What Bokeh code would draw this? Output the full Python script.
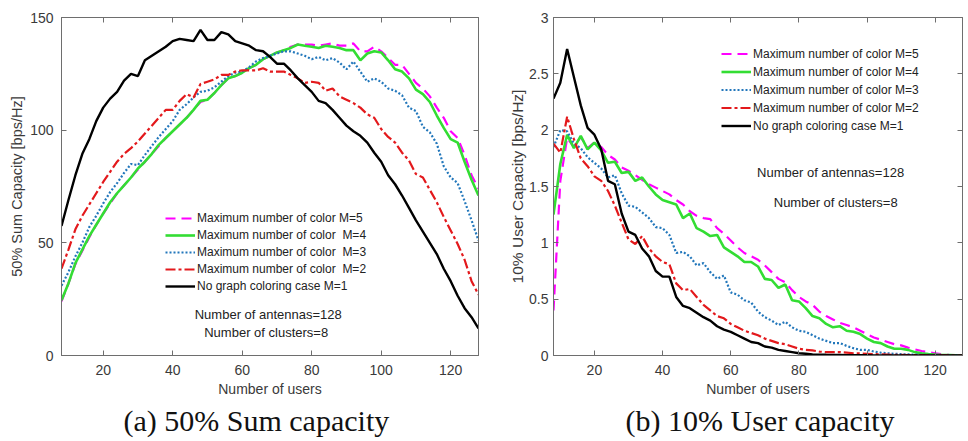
from bokeh.plotting import figure
from bokeh.layouts import row
from bokeh.models import (Range1d, LinearAxis, FixedTicker, Legend, LegendItem,
                          Label, Title, CustomJSTickFormatter)
from bokeh.embed import file_html
from bokeh.resources import INLINE

# ---------------- data ----------------
users = list(range(8, 129, 2))

# (a) 50% sum capacity [bps/Hz]
sum_m5 = [24, 32, 40.5, 46.5, 52.5, 58, 63, 67.5, 72, 75.5, 79, 82.5, 86, 89.5, 93, 96.5, 99.5, 102.5,
          105.5, 109, 112.5, 113.5, 116.5, 120, 123, 124, 125.5, 127.5, 129, 131.5, 133, 134.5, 135.5,
          137, 138, 138, 138, 137.5, 138, 138.5, 137.5, 137.5, 138.5, 135, 135, 137, 135, 132, 129,
          129, 125, 121, 118.5, 115, 110, 105.5, 99.5, 96.5, 89, 80, 74]
sum_m4 = [24.5, 32, 41, 47, 53, 58, 63, 68, 72, 75.5, 79, 83, 86, 89.5, 93.5, 96.5, 99.5, 102.5,
          105.5, 109, 113, 113.5, 116.5, 120, 123, 124, 125.5, 127.5, 129, 131.5, 133, 134.5, 135.5,
          136.5, 138, 137.5, 137, 136.5, 137.5, 137, 136.5, 135.5, 135.5, 131, 134, 135, 134.5, 131,
          127, 126, 123, 118, 116, 112.5, 106.5, 101, 96, 94.5, 86, 78, 71]
sum_m3 = [31, 37, 44, 50, 57, 62, 67.5, 72.5, 76.5, 81, 85, 84.5, 89, 93, 97, 100.5, 104, 109, 111.5,
          114.5, 117, 117.5, 119, 121.5, 124, 125.5, 126, 128, 130.5, 132, 133, 134, 135, 135, 134,
          133, 131.5, 132.5, 131, 132, 130, 127, 130.5, 126, 121.5, 123, 121.5, 118.5, 117.5, 115.5,
          110, 108.5, 101.5, 99, 94, 84, 79, 76.5, 68.5, 60, 51]
sum_m2 = [38.5, 47, 56, 62, 67, 72, 77, 81.5, 86, 89.5, 92, 95, 98.5, 102, 105.5, 109, 109, 113, 116,
          114.5, 120.5, 121.5, 122.5, 124.5, 124.5, 126, 126.5, 126.5, 126.5, 127.5, 126, 126, 126,
          124.5, 123, 121, 121.5, 121, 117.5, 118.5, 115, 113.5, 112, 110, 107, 105.5, 100.5, 97,
          94.5, 90, 86.5, 80.5, 79, 73.5, 68, 61.5, 55.5, 49.5, 42.5, 33, 27]
sum_m1 = [57.5, 69, 80, 89.5, 96, 104, 110, 114, 117, 122, 125, 124, 131, 133, 135, 137, 139.5, 140.5,
          140, 139.5, 144.5, 140, 140, 143.5, 142.5, 139.5, 138.5, 137.5, 135.5, 135, 132.5, 129.5,
          129.5, 126.5, 123, 120, 117, 113, 112, 109, 105.5, 102, 99.5, 97.5, 94.5, 90, 86, 80, 76,
          71, 65.5, 60, 55, 50, 45, 38.5, 33, 26.5, 21, 17, 12]

# (b) 10% user capacity [bps/Hz]
usr_m5 = [0.40, 1.55, 1.93, 1.85, 1.94, 1.84, 1.89, 1.85, 1.78, 1.74, 1.67, 1.64, 1.60, 1.56, 1.52,
          1.49, 1.46, 1.43, 1.38, 1.34, 1.28, 1.24, 1.22, 1.21, 1.13, 1.08, 1.02, 0.96, 0.91, 0.88,
          0.85, 0.80, 0.74, 0.68, 0.65, 0.58, 0.52, 0.48, 0.45, 0.39, 0.35, 0.32, 0.29, 0.27, 0.25,
          0.22, 0.19, 0.16, 0.14, 0.12, 0.10, 0.09, 0.07, 0.055, 0.04, 0.03, 0.02, 0.01, 0.005,
          0.002, 0.0]
usr_m4 = [1.25, 1.70, 1.96, 1.84, 1.95, 1.83, 1.89, 1.82, 1.71, 1.72, 1.62, 1.63, 1.55, 1.58, 1.50,
          1.43, 1.38, 1.36, 1.34, 1.22, 1.26, 1.13, 1.10, 1.06, 1.07, 0.96, 0.92, 0.88, 0.83, 0.83,
          0.79, 0.68, 0.67, 0.60, 0.63, 0.49, 0.48, 0.42, 0.35, 0.33, 0.28, 0.25, 0.26, 0.22, 0.21,
          0.19, 0.15, 0.12, 0.11, 0.08, 0.06, 0.06, 0.05, 0.03, 0.02, 0.012, 0.008, 0.005, 0.003,
          0.001, 0.0]
usr_m3 = [1.85, 2.00, 1.99, 1.88, 1.84, 1.76, 1.71, 1.66, 1.58, 1.60, 1.44, 1.33, 1.32, 1.27, 1.22,
          1.14, 1.13, 1.07, 0.91, 0.92, 0.88, 0.80, 0.82, 0.74, 0.68, 0.71, 0.56, 0.54, 0.49, 0.47,
          0.39, 0.34, 0.31, 0.27, 0.30, 0.25, 0.22, 0.21, 0.18, 0.15, 0.13, 0.11, 0.11, 0.085, 0.065,
          0.05, 0.05, 0.035, 0.025, 0.02, 0.015, 0.012, 0.01, 0.008, 0.006, 0.005, 0.004, 0.003,
          0.002, 0.001, 0.0]
usr_m2 = [1.88, 1.80, 2.12, 1.92, 1.75, 1.68, 1.59, 1.55, 1.46, 1.33, 1.18, 1.03, 0.99, 1.06, 0.95,
          0.88, 0.83, 0.81, 0.64, 0.58, 0.59, 0.52, 0.45, 0.40, 0.35, 0.33, 0.28, 0.25, 0.22, 0.20,
          0.18, 0.15, 0.13, 0.11, 0.10, 0.08, 0.06, 0.05, 0.045, 0.035, 0.03, 0.03, 0.03, 0.025,
          0.02, 0.018, 0.015, 0.012, 0.01, 0.008, 0.006, 0.005, 0.004, 0.003, 0.003, 0.002, 0.002,
          0.001, 0.001, 0.0, 0.0]
usr_m1 = [2.28, 2.42, 2.72, 2.47, 2.22, 2.02, 1.96, 1.83, 1.55, 1.52, 1.26, 1.10, 1.07, 0.95, 0.88,
          0.75, 0.70, 0.70, 0.52, 0.44, 0.42, 0.38, 0.34, 0.31, 0.26, 0.23, 0.21, 0.18, 0.15, 0.12,
          0.11, 0.08, 0.07, 0.05, 0.04, 0.03, 0.02, 0.015, 0.01, 0.008, 0.006, 0.005, 0.004, 0.003,
          0.003, 0.002, 0.002, 0.001, 0.001, 0.001, 0.0, 0.0, 0.0, 0.0, 0.0, 0.0, 0.0, 0.0, 0.0,
          0.0, 0.0]

x_ticks = [20, 40, 60, 80, 100, 120]
sum_ticks = [0, 50, 100, 150]
usr_ticks = [0, 0.5, 1, 1.5, 2, 2.5, 3]

labels_a = ["Maximum number of color M=5", "Maximum number of color  M=4",
            "Maximum number of color  M=3", "Maximum number of color  M=2",
            "No graph coloring case M=1"]
labels_b = ["Maximum number of color M=5", "Maximum number of color M=4",
            "Maximum number of color M=3", "Maximum number of color M=2",
            "No graph coloring case M=1"]

# ---------------- styles ----------------
FONT = "Liberation Sans"
TXT = "#3a3a3a"
AX = "#6e6e6e"
styles = [
    dict(color="#FF00FF", line_width=2.2, line_dash="10 6"),
    dict(color="#33DD33", line_width=2.6, line_dash="solid"),
    dict(color="#2277BB", line_width=2.2, line_dash="2 2"),
    dict(color="#E3191C", line_width=2.2, line_dash="10 3 3 3"),
    dict(color="#000000", line_width=2.4, line_dash="solid"),
]


def style_axis(ax, tick_standoff=6, label_standoff=2, label_size="14px"):
    ax.axis_line_color = AX
    ax.major_tick_line_color = AX
    ax.major_tick_in = 5
    ax.major_tick_out = 0
    ax.minor_tick_line_color = None
    ax.major_label_text_font = FONT
    ax.major_label_text_color = TXT
    ax.major_label_text_font_size = "14px"
    ax.major_label_standoff = tick_standoff
    ax.axis_label_standoff = label_standoff
    ax.axis_label_text_font = FONT
    ax.axis_label_text_color = TXT
    ax.axis_label_text_font_size = label_size
    ax.axis_label_text_font_style = "normal"


def tick_only_axis(ticks):
    ax = LinearAxis(ticker=FixedTicker(ticks=ticks))
    ax.axis_line_color = AX
    ax.major_tick_line_color = AX
    ax.major_tick_in = 5
    ax.major_tick_out = 0
    ax.minor_tick_line_color = None
    ax.major_label_text_color = None
    ax.major_label_text_font_size = "1px"
    ax.major_label_standoff = 0
    return ax


def make_panel(width, height, ymax, yticks, series, labels, ylabel, caption, cap_offset,
               borders, legend_loc, glyph_h, notes, ytick_standoff, ylab_standoff,
               ylab_size, yfmt=None):
    p = figure(width=width, height=height, output_backend="svg", toolbar_location=None,
               x_range=Range1d(8, 128), y_range=Range1d(0, ymax),
               min_border_left=borders[0], min_border_right=borders[1],
               min_border_top=borders[2], min_border_bottom=borders[3])
    p.grid.visible = False
    p.outline_line_color = AX
    p.background_fill_color = "white"
    p.border_fill_color = "white"
    p.xaxis.ticker = FixedTicker(ticks=x_ticks)
    p.yaxis.ticker = FixedTicker(ticks=yticks)
    if yfmt is not None:
        p.yaxis.formatter = yfmt
    p.xaxis.axis_label = "Number of users"
    p.yaxis.axis_label = ylabel
    for ax in p.xaxis:
        style_axis(ax, tick_standoff=9, label_standoff=3)
    for ax in p.yaxis:
        style_axis(ax, tick_standoff=ytick_standoff, label_standoff=ylab_standoff,
                   label_size=ylab_size)
    p.add_layout(tick_only_axis(x_ticks), "above")
    p.add_layout(tick_only_axis(yticks), "right")

    items = []
    for ys, lab, st in zip(series, labels, styles):
        r = p.line(users, ys, line_color=st["color"], line_width=st["line_width"],
                   line_dash=st["line_dash"])
        items.append(LegendItem(label=lab, renderers=[r]))
    leg = Legend(items=items, location=legend_loc, border_line_color=None,
                 background_fill_alpha=0.0, padding=0, margin=0, spacing=3,
                 glyph_width=30, glyph_height=glyph_h, label_height=glyph_h,
                 label_standoff=2, label_text_font=FONT, label_text_font_size="12px",
                 label_text_color="#222222")
    p.add_layout(leg, "center")

    for (tx, ty, t) in notes:
        p.add_layout(Label(x=tx, y=ty, text=t, text_align="center", text_baseline="middle",
                           text_font=FONT, text_font_size="13px", text_color="#222222"))

    cap = Title(text=caption, align="left", text_font="Liberation Serif",
                text_font_size="30px", text_font_style="normal", text_color="#111111",
                standoff=4, offset=cap_offset)
    p.add_layout(cap, "below")
    return p


notes_a = [(67.5, 18.4, "Number of antennas=128"), (66.9, 10.1, "Number of clusters=8")]
notes_b = [(89.3, 1.62, "Number of antennas=128"), (90.8, 1.36, "Number of clusters=8")]

p1 = make_panel(490, 441, 150, sum_ticks,
                [sum_m5, sum_m4, sum_m3, sum_m2, sum_m1], labels_a,
                "50% Sum Capacity [bps/Hz]", "(a) 50% Sum capacity", 62,
                (61, 12, 14, 85), (104, 62), 14, notes_a, 8, 2, "14.5px")

fmt = CustomJSTickFormatter(code="return String(Math.round(tick*10)/10);")
p2 = make_panel(478, 441, 3, usr_ticks,
                [usr_m5, usr_m4, usr_m3, usr_m2, usr_m1], labels_b,
                "10% User Capacity [bps/Hz]", "(b) 10% User capacity", 72,
                (63, 6, 17, 86), (168, 222), 15, notes_b, 5, 0, "15.5px", yfmt=fmt)

layout = row(p1, p2)
open("out.html", "w").write(file_html(layout, INLINE))
